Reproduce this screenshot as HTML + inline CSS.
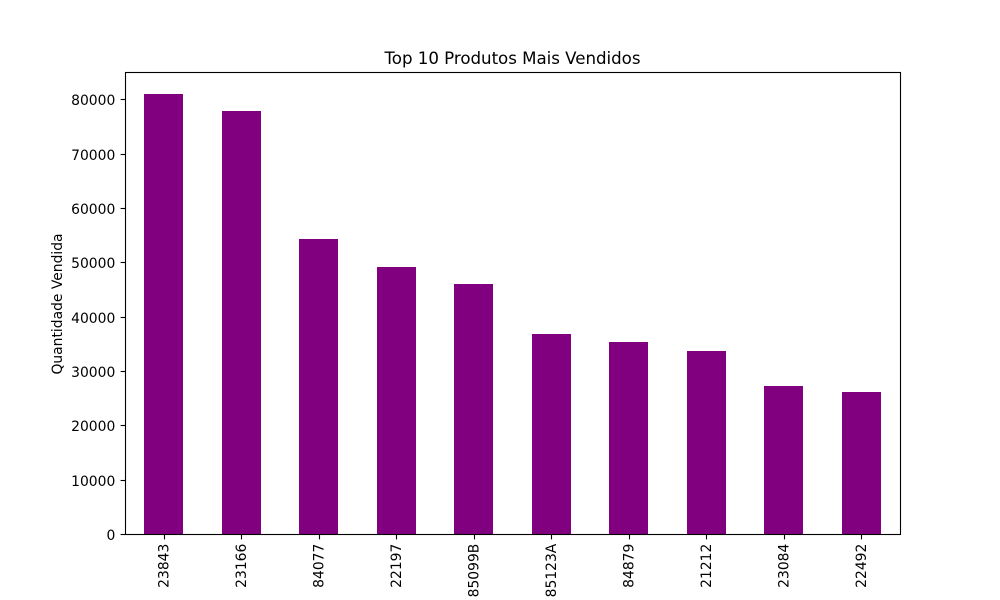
<!DOCTYPE html>
<html lang="pt">
<head>
<meta charset="utf-8">
<title>Top 10 Produtos Mais Vendidos</title>
<style>
html,body{margin:0;padding:0;background:#fff;}
svg{display:block;}
text{font-family:"DejaVu Sans",sans-serif;fill:#000;}
</style>
</head>
<body>
<svg id="chart" xmlns="http://www.w3.org/2000/svg" width="1000" height="600" viewBox="0 0 1000 600"></svg>
<script>
const categories = ["23843","23166","84077","22197","85099B","85123A","84879","21212","23084","22492"];
const quantities = [80995,77916,54319,49160,46078,36763,35263,33670,27200,26076];
const yTicks = [0,10000,20000,30000,40000,50000,60000,70000,80000];
const chartTitle = "Top 10 Produtos Mais Vendidos";
const yAxisTitle = "Quantidade Vendida";

const NS = "http://www.w3.org/2000/svg";
const svg = document.getElementById("chart");
const plot = {left:125, right:900, top:72, bottom:534};
const yMax = Math.max(...quantities) * 1.05;
const barFraction = 0.5;

function xScale(i){
  return plot.left + (i + 0.5) * (plot.right - plot.left) / categories.length;
}
function yScale(v){
  return plot.bottom - v / yMax * (plot.bottom - plot.top);
}
function snapLine(v){
  return Math.floor(v + 0.5) + 0.5;
}
function make(tag, attrs, text){
  const el = document.createElementNS(NS, tag);
  for (const k in attrs) el.setAttribute(k, attrs[k]);
  if (text !== undefined) el.textContent = text;
  svg.appendChild(el);
  return el;
}

const bandWidth = (plot.right - plot.left) / categories.length;
const barWidth = bandWidth * barFraction;

categories.forEach(function(cat, i){
  const top = Math.round(yScale(quantities[i]));
  const x0 = Math.round(xScale(i) - barWidth / 2);
  const x1 = Math.round(xScale(i) + barWidth / 2);
  const bar = make("rect", {x:x0, y:top, width:x1 - x0, height:plot.bottom - top, fill:"#800080", "shape-rendering":"crispEdges"});
  
  
});

const frame = make("rect", {x:plot.left + 0.5, y:plot.top + 0.5, width:plot.right - plot.left, height:plot.bottom - plot.top, fill:"none", stroke:"#000", "stroke-width":1.1});



yTicks.forEach(function(t){
  const y = snapLine(yScale(t));
  const mark = make("line", {x1:plot.left - 4.4, x2:plot.left + 0.5, y1:y, y2:y, stroke:"#000", "stroke-width":1.1});
  
  
  const label = make("text", {x:plot.left - 9.7, y:y + 5.5, "text-anchor":"end", "font-size":"13.89px"}, String(t));
  
  
});

categories.forEach(function(cat, i){
  const x = snapLine(xScale(i));
  const mark = make("line", {x1:x, x2:x, y1:plot.bottom + 0.5, y2:plot.bottom + 5.4, stroke:"#000", "stroke-width":1.1});
  
  
  const lx = xScale(i) + 5;
  const ly = plot.bottom + 9.7;
  const label = make("text", {x:lx, y:ly, "text-anchor":"end", "font-size":"13.89px", transform:"rotate(-90 " + lx + " " + ly + ")"}, cat);
  
  
});

const titleEl = make("text", {x:(plot.left + plot.right) / 2, y:plot.top - 8, "text-anchor":"middle", "font-size":"16.67px", textLength:"256", lengthAdjust:"spacing"}, chartTitle);



const yTitleX = 62;
const yTitleY = (plot.top + plot.bottom) / 2 + 1;
const yTitleEl = make("text", {x:yTitleX, y:yTitleY, "text-anchor":"middle", "font-size":"13.89px", transform:"rotate(-90 " + yTitleX + " " + yTitleY + ")"}, yAxisTitle);


</script>
</body>
</html>
